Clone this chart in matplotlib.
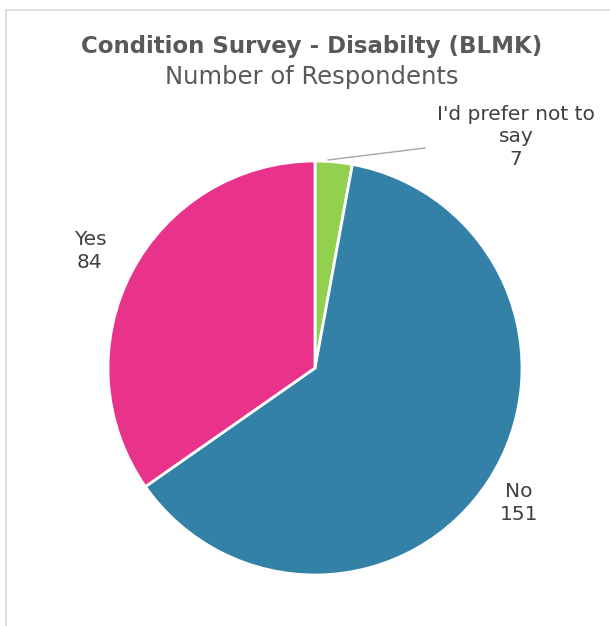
import matplotlib.pyplot as plt
from matplotlib.patches import Rectangle

categories = ["I'd prefer not to say", "No", "Yes"]
values = [7, 151, 84]
colors = ["#92D050", "#3481A8", "#E9328A"]

W, H = 610, 626
fig = plt.figure(figsize=(W / 100, H / 100), dpi=100)
ax = fig.add_axes([0, 0, 1, 1])
ax.set_xlim(0, W)
ax.set_ylim(0, H)
ax.set_axis_off()

# chart frame (only the left/top edges are visible in the crop)
ax.add_patch(Rectangle((5.5, -10), W + 20, H - 9.5 + 10, fill=False,
                       edgecolor="#d9d9d9", linewidth=1.2))

cx, cy, r = 315, H - 368, 207
ax.pie(values, colors=colors, startangle=90, counterclock=False,
       center=(cx, cy), radius=r,
       wedgeprops=dict(edgecolor="white", linewidth=2))
ax.set_aspect("equal")
ax.set_xlim(0, W)
ax.set_ylim(0, H)

font = "DejaVu Sans"
grey = "#595959"
ax.text(312, H - 46, "Condition Survey - Disabilty (BLMK)", ha="center", va="center",
        fontsize=16.5, fontweight="bold", color=grey, family=font)
ax.text(312, H - 77, "Number of Respondents", ha="center", va="center",
        fontsize=17.5, color=grey, family=font)

lab = dict(ha="center", va="center", fontsize=14.5, color="#404040", family=font,
           linespacing=1.25)
ax.text(90, H - 251, f"{categories[2]}\n{values[2]}", **lab)
ax.text(519, H - 503, f"{categories[1]}\n{values[1]}", **lab)
ax.text(516, H - 137, "I'd prefer not to\nsay\n" + str(values[0]), **lab)
ax.plot([328, 425], [H - 160, H - 148], color="#a6a6a6", linewidth=1)

fig.savefig("out.png", dpi=100, facecolor="white")
